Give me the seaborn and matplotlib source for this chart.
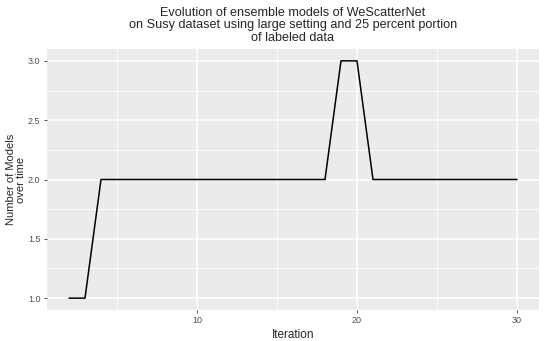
import numpy as np
import pandas as pd
import matplotlib
matplotlib.use("Agg")
import matplotlib.pyplot as plt
import seaborn as sns

# ── Data ──────────────────────────────────────────────────────────────────────
iterations = list(range(2, 31))
n_models = [1, 1] + [2] * 15 + [3, 3] + [2] * 10

df = pd.DataFrame({"Iteration": iterations, "Models": n_models})

# ── Style (ggplot-like) ───────────────────────────────────────────────────────
sns.set_theme(style="darkgrid", rc={
    "axes.facecolor": "#EBEBEB",
    "grid.color": "white",
    "axes.edgecolor": "#EBEBEB",
})
plt.rcParams["font.family"] = ["Liberation Sans", "DejaVu Sans"]

fig = plt.figure(figsize=(5.45, 3.41), dpi=100)
ax = fig.add_axes([0.0855, 0.0909, 0.9042, 0.7654])

sns.lineplot(data=df, x="Iteration", y="Models", ax=ax, color="black", linewidth=1.1)

ax.set_xlim(0.6, 31.4)
ax.set_ylim(0.9, 3.1)
ax.set_xticks([10, 20, 30])
ax.set_xticks([5, 15, 25], minor=True)
ax.set_yticks([1.0, 1.5, 2.0, 2.5, 3.0])
ax.set_yticks([1.25, 1.75, 2.25, 2.75], minor=True)
ax.set_yticklabels(["1.0", "1.5", "2.0", "2.5", "3.0"])
ax.grid(which="major", color="white", linewidth=1.1)
ax.grid(which="minor", color="white", linewidth=0.6)
for s in ax.spines.values():
    s.set_visible(False)

ax.tick_params(axis="both", which="major", labelsize=6.5, labelcolor="#4D4D4D",
               length=2.5, width=0.6, color="#333333", pad=2, bottom=True, left=True)
ax.tick_params(axis="both", which="minor", length=0)

ax.set_xlabel("Iteration", fontsize=8.5, labelpad=3)
ax.set_ylabel("Number of Models\nover time", fontsize=8, linespacing=1.0)
ax.yaxis.set_label_coords(-0.042, 0.5)
ax.set_title("Evolution of ensemble models of WeScatterNet\n"
             "on Susy dataset using large setting and 25 percent portion\n"
             "of labeled data", fontsize=9.1, pad=6, linespacing=1.05)

fig.savefig("out.png", dpi=100)
